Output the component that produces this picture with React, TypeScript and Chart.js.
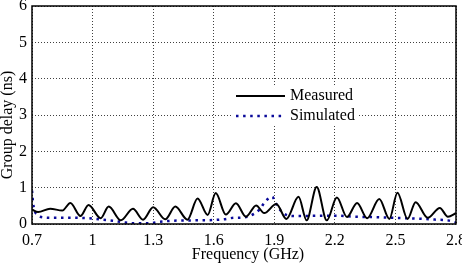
import React, { useEffect, useRef } from "react";
import { Chart, registerables } from "chart.js";

Chart.register(...registerables);

const xTicks = [0.7, 1, 1.3, 1.6, 1.9, 2.2, 2.5, 2.8];
const xTickLabels = ["0.7", "1", "1.3", "1.6", "1.9", "2.2", "2.5", "2.8"];
const yTicks = [0, 1, 2, 3, 4, 5, 6];

const measuredFreq = [
  0.7, 0.73, 0.79, 0.85, 0.89, 0.94, 0.98, 1.04, 1.08, 1.14, 1.2, 1.25, 1.3, 1.36, 1.41, 1.47,
  1.52, 1.57, 1.61, 1.66, 1.71, 1.76, 1.81, 1.85, 1.91, 1.96, 2.02, 2.06, 2.11, 2.16, 2.21,
  2.26, 2.31, 2.36, 2.42, 2.47, 2.51, 2.56, 2.6, 2.66, 2.72, 2.76, 2.8,
];
const measuredDelay = [
  0.4, 0.33, 0.42, 0.37, 0.58, 0.22, 0.52, 0.16, 0.48, 0.1, 0.42, 0.12, 0.46, 0.13, 0.48, 0.12,
  0.7, 0.25, 0.85, 0.26, 0.57, 0.2, 0.51, 0.3, 0.55, 0.14, 0.75, 0.1, 1.02, 0.1, 0.73,
  0.19, 0.58, 0.16, 0.69, 0.14, 0.86, 0.14, 0.6, 0.17, 0.44, 0.2, 0.3,
];

const simulatedFreq = [
  0.7, 0.705, 0.712, 0.725, 0.74, 0.8, 0.9, 1.0, 1.05, 1.1, 1.15, 1.2, 1.28, 1.33, 1.4, 1.5,
  1.6, 1.65, 1.7, 1.75, 1.8, 1.83, 1.85, 1.875, 1.89, 1.905, 1.93, 1.96, 2.0, 2.2, 2.3, 2.4,
  2.5, 2.6, 2.7, 2.76, 2.8,
];
const simulatedDelay = [
  0.92, 0.6, 0.38, 0.26, 0.2, 0.17, 0.17, 0.15, 0.12, 0.09, 0.05, 0.02, 0.02, 0.06, 0.09, 0.1,
  0.11, 0.13, 0.17, 0.18, 0.28, 0.42, 0.58, 0.72, 0.75, 0.6, 0.38, 0.25, 0.22, 0.23, 0.2, 0.19,
  0.17, 0.15, 0.12, 0.1, 0.04,
];

const seriesNames = ["Measured", "Simulated"];
const xTitle = "Frequency (GHz)";
const yTitle = "Group delay (ns)";
const FONT = "'Liberation Serif', 'Times New Roman', serif";

export default function App() {
  const ref = useRef<HTMLCanvasElement | null>(null);

  useEffect(() => {
    document.body.style.margin = "0";
    const canvas = ref.current;
    if (!canvas) return;

    const boxPlugin = {
      id: "boxAndLegend",
      afterDatasetsDraw(chart: any) {
        const { ctx, chartArea: ca } = chart;
        ctx.save();
        // legend box
        const lx = ca.left + 199;
        const ly = ca.top + 80;
        ctx.fillStyle = "#ffffff";
        ctx.fillRect(lx, ly, 126, 40);
        ctx.lineCap = "butt";
        ctx.strokeStyle = "#000000";
        ctx.lineWidth = 2;
        ctx.beginPath();
        ctx.moveTo(lx + 5, ly + 10);
        ctx.lineTo(lx + 54, ly + 10);
        ctx.stroke();
        ctx.strokeStyle = "#0a0a9a";
        ctx.lineWidth = 2.5;
        ctx.setLineDash([2.5, 4.6]);
        ctx.beginPath();
        ctx.moveTo(lx + 5, ly + 30);
        ctx.lineTo(lx + 54, ly + 30);
        ctx.stroke();
        ctx.setLineDash([]);
        ctx.fillStyle = "#000000";
        ctx.font = `16px ${FONT}`;
        ctx.textBaseline = "middle";
        ctx.textAlign = "left";
        ctx.fillText(seriesNames[0], lx + 59, ly + 10);
        ctx.fillText(seriesNames[1], lx + 59, ly + 30);
        // frame
        ctx.strokeStyle = "#000000";
        ctx.lineWidth = 1.5;
        ctx.strokeRect(ca.left, ca.top, ca.right - ca.left, ca.bottom - ca.top);
        // axis titles
        ctx.textAlign = "center";
        ctx.fillText(xTitle, (ca.left + ca.right) / 2 + 4, ca.bottom + 31);
        ctx.translate(8, (ca.top + ca.bottom) / 2 + 10);
        ctx.rotate(-Math.PI / 2);
        ctx.fillText(yTitle, 0, 0);
        ctx.restore();
      },
    };

    const chart = new Chart(canvas, {
      type: "line",
      data: {
        datasets: [
          {
            label: seriesNames[0],
            data: measuredFreq.map((x, i) => ({ x, y: measuredDelay[i] })),
            borderColor: "#000000",
            borderWidth: 2,
            pointRadius: 0,
            cubicInterpolationMode: "monotone",
            fill: false,
          },
          {
            label: seriesNames[1],
            data: simulatedFreq.map((x, i) => ({ x, y: simulatedDelay[i] })),
            borderColor: "#0a0a9a",
            borderWidth: 2.5,
            borderDash: [2.5, 4.6],
            pointRadius: 0,
            cubicInterpolationMode: "monotone",
            fill: false,
          },
        ],
      },
      options: {
        responsive: false,
        animation: false,
        layout: { padding: { top: 6, right: 6, left: 0, bottom: 0 } },
        plugins: {
          legend: { display: false },
          tooltip: { enabled: false },
        },
        scales: {
          x: {
            type: "linear",
            min: 0.7,
            max: 2.8,
            afterBuildTicks: (scale: any) => {
              scale.ticks = xTicks.map((v) => ({ value: v }));
            },
            afterFit: (scale: any) => {
              scale.height = 42;
              scale.paddingLeft = 0;
              scale.paddingRight = 0;
            },
            ticks: {
              autoSkip: false,
              maxRotation: 0,
              padding: 7,
              color: "#000000",
              font: { family: FONT, size: 16 },
              callback: (v: any) => {
                const i = xTicks.findIndex((t) => Math.abs(t - Number(v)) < 1e-6);
                return i >= 0 ? xTickLabels[i] : "";
              },
            },
            grid: { color: "rgba(0,0,0,0.75)", lineWidth: 1, drawTicks: false },
            border: { display: false, dash: [1, 2] },
          },
          y: {
            type: "linear",
            min: 0,
            max: 6,
            afterBuildTicks: (scale: any) => {
              scale.ticks = yTicks.map((v) => ({ value: v }));
            },
            afterFit: (scale: any) => {
              scale.width = 32;
              scale.paddingTop = 0;
              scale.paddingBottom = 0;
            },
            ticks: {
              padding: 5,
              color: "#000000",
              font: { family: FONT, size: 16 },
              callback: (v: any) => String(v),
            },
            grid: { color: "rgba(0,0,0,0.75)", lineWidth: 1, drawTicks: false },
            border: { display: false, dash: [1, 2] },
          },
        },
      },
      plugins: [boxPlugin],
    } as any);

    return () => chart.destroy();
  }, []);

  return <canvas ref={ref} width={462} height={266} style={{ display: "block" }} />;
}
